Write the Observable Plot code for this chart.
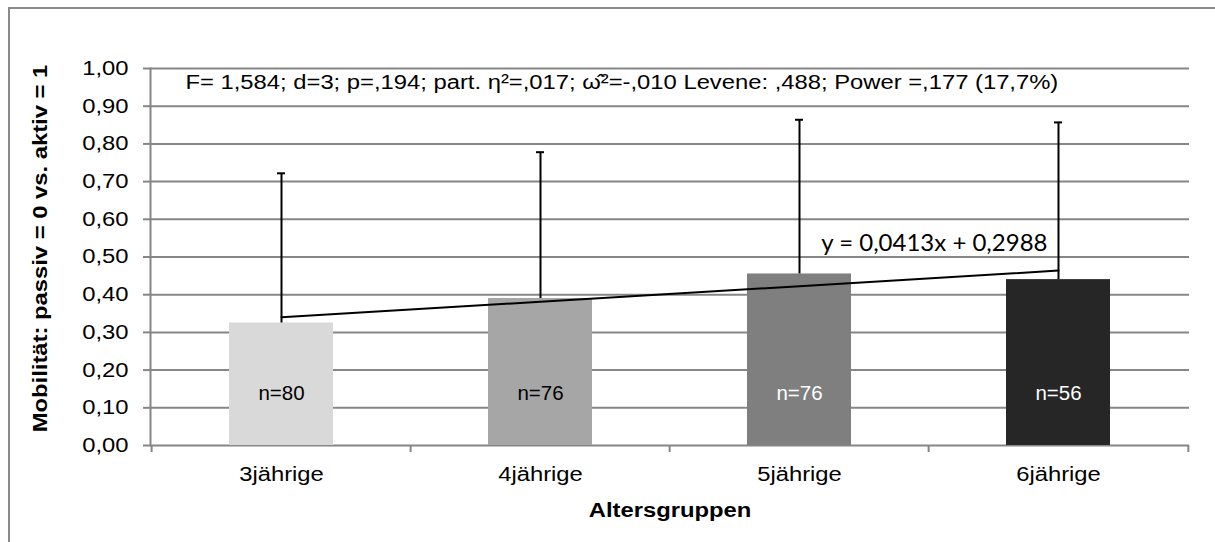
<!DOCTYPE html>
<html>
<head>
<meta charset="utf-8">
<script src="https://cdn.jsdelivr.net/npm/d3@7"></script>
<script src="https://cdn.jsdelivr.net/npm/@observablehq/plot@0.6"></script>
<style>
  html, body { margin: 0; padding: 0; background: #fff; overflow: hidden; }
  #wrap { position: relative; width: 1215px; height: 542px; }
  #border { position: absolute; left: 8px; top: 7px; width: 1300px; height: 700px;
            border: 2px solid #8a8a8a; box-sizing: border-box; pointer-events: none; }
  #chart { position: absolute; left: 0; top: 0; }
</style>
</head>
<body>
<div id="wrap">
  <div id="chart"></div>
  <div id="border"></div>
</div>
<script>
// ---- data ----
const categories = ["3jährige", "4jährige", "5jährige", "6jährige"];
const means = [0.325, 0.39, 0.455, 0.44];
const upperBars = [0.722, 0.778, 0.864, 0.857];
const nLabels = ["n=80", "n=76", "n=76", "n=56"];
const yTicks = [0, 0.1, 0.2, 0.3, 0.4, 0.5, 0.6, 0.7, 0.8, 0.9, 1.0];
const trendSlope = 0.0413;
const trendIntercept = 0.2988;
const equationText = "y = 0,0413x + 0,2988";
const statsText = "F= 1,584; d=3; p=,194; part. η²=,017; ω̂²=-,010 Levene: ,488; Power =,177 (17,7%)";
const yTitle = "Mobilität: passiv = 0 vs. aktiv = 1";
const xTitle = "Altersgruppen";

// ---- tables built from the arrays ----
const rows = categories.map((c, i) => ({cat: c, mean: means[i], upper: upperBars[i], n: nLabels[i], idx: i}));
const trend = categories.map((c, i) => ({cat: c, val: trendIntercept + trendSlope * (i + 1)}));
const lastCat = categories[categories.length - 1];

// ---- layout / style ----
const W = 1215, H = 542, ML = 150, MR = 26, MT = 68, MB = 97;
const step = (W - ML - MR) / categories.length;
const gray = "#868686";
const fmt = d => d3.format(".2f")(d).replace(".", ",");
const stretch = 1.19;

const chart = Plot.plot({
  width: W, height: H,
  marginLeft: ML, marginRight: MR, marginTop: MT, marginBottom: MB,
  style: {fontFamily: "'Liberation Sans', Arial, sans-serif", fontSize: "20px", color: "black", background: "transparent", overflow: "visible"},
  x: {domain: categories, paddingInner: 0.6, paddingOuter: 0.3, axis: null},
  y: {domain: [0, 1], axis: null},
  color: {domain: categories, range: ["#d9d9d9", "#a6a6a6", "#7f7f7f", "#262626"]},
  marks: [
    Plot.gridY(yTicks, {stroke: gray, strokeOpacity: 1, strokeWidth: 2}),
    Plot.axisY({ticks: yTicks, tickFormat: fmt, tickSize: 7, tickPadding: 15, stroke: gray, strokeWidth: 2, fill: "black", label: null}),
    Plot.frame({anchor: "left", stroke: gray, strokeWidth: 2}),
    Plot.axisX({ticks: categories, tickSize: 0, tickPadding: 21, fill: "black", label: null}),
    Plot.axisX({ticks: categories, tickSize: 7, tickFormat: () => "", dx: -step / 2, stroke: gray, strokeWidth: 2, label: null}),
    Plot.axisX({ticks: [lastCat], tickSize: 7, tickFormat: () => "", dx: step / 2, stroke: gray, strokeWidth: 2, label: null}),
    Plot.barY(rows, {x: "cat", y: "mean", fill: "cat"}),
    Plot.text(rows, {x: "cat", y: () => 0.138, text: "n", fill: d => d.idx >= 2 ? "white" : "black", lineAnchor: "middle", fontSize: 20.5}),
    Plot.ruleX(rows, {x: "cat", y1: "mean", y2: "upper", stroke: "black", strokeWidth: 2}),
    Plot.tickY(rows, {x: "cat", y: "upper", stroke: "black", strokeWidth: 2, insetLeft: 48, insetRight: 48}),
    Plot.line(trend, {x: "cat", y: "val", stroke: "black", strokeWidth: 2}),
    Plot.text([equationText], {x: () => lastCat, y: () => 0.536, text: d => d, textAnchor: "end", dx: -11, lineAnchor: "middle",
      fontFamily: "Lato, 'Open Sans', sans-serif", fontSize: 24, fill: "black"}),
    Plot.text([statsText], {frameAnchor: "top-left", text: d => d, textAnchor: "start", lineAnchor: "middle", dx: 35, dy: 14, fill: "black"}),
    Plot.text([yTitle], {frameAnchor: "left", text: d => d, rotate: -90, textAnchor: "middle", dx: -110, dy: -8.5, fontWeight: "bold", fill: "black"}),
    Plot.text([xTitle], {frameAnchor: "bottom", text: d => d, textAnchor: "middle", dy: 65, lineAnchor: "middle", fontWeight: "bold", fill: "black"})
  ]
});

// the reference's Arial texts are drawn wider than normal: stretch them horizontally
d3.select(chart).selectAll("text").each(function () {
  const t = this.textContent;
  if (nLabels.includes(t) || t === equationText) return;
  const tr = this.getAttribute("transform") || "";
  this.setAttribute("transform", tr + ` scale(${stretch},1)`);
});

document.getElementById("chart").appendChild(chart);
</script>
</body>
</html>
